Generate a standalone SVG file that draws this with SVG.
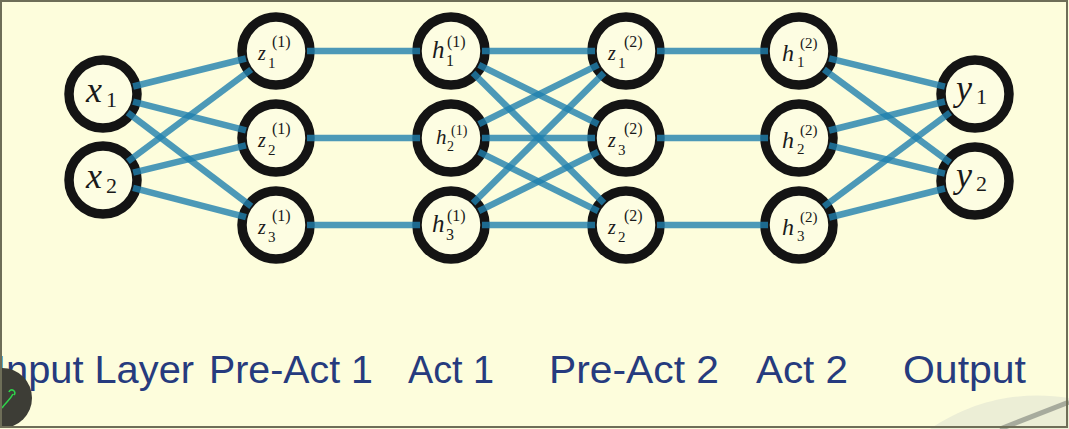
<svg xmlns="http://www.w3.org/2000/svg" width="1069" height="429" viewBox="0 0 1069 429">
<defs>
<style>
.bg{fill:#fdfddc}
.node circle{fill:#fdfde2;stroke:#141414;stroke-width:9.5}
.edges line{stroke:#1f7fae;stroke-opacity:0.8;stroke-width:6.5;stroke-linecap:butt}
.m{font-family:"Liberation Serif","DejaVu Serif",serif;font-style:italic;fill:#1a1a1a}
.s{font-family:"Liberation Serif","DejaVu Serif",serif;fill:#1a1a1a}
.cap{font-family:"Liberation Sans",Arial,sans-serif;font-size:38px;fill:#263b7e}
</style>
</defs>
<rect class="bg" x="0" y="0" width="1069" height="429"/>
<path d="M930,429 C980,395 1030,392 1069,398 L1069,429 Z" fill="#eceed6"/>
<path d="M1000,429 L1069,402" stroke="#8a8f84" stroke-width="5" fill="none" opacity="0.7"/>

<g id="node-x1" class="node"><circle cx="103" cy="94" r="34"/><text class="m" x="86" y="102" font-size="36">x</text><text class="s" x="106" y="107" font-size="22">1</text></g>
<g id="node-x2" class="node"><circle cx="103" cy="180" r="34"/><text class="m" x="86" y="188" font-size="36">x</text><text class="s" x="106" y="193" font-size="22">2</text></g>

<g id="node-z1-1" class="node"><circle cx="276" cy="51" r="34"/><text class="m" x="258" y="60" font-size="20">z</text><text class="s" x="268" y="68" font-size="15">1</text><text class="s" x="272" y="47" font-size="16">(1)</text></g>
<g id="node-z2-1" class="node"><circle cx="276" cy="138" r="34"/><text class="m" x="258" y="147" font-size="20">z</text><text class="s" x="268" y="155" font-size="15">2</text><text class="s" x="272" y="134" font-size="16">(1)</text></g>
<g id="node-z3-1" class="node"><circle cx="276" cy="225" r="34"/><text class="m" x="258" y="234" font-size="20">z</text><text class="s" x="268" y="242" font-size="15">3</text><text class="s" x="272" y="221" font-size="16">(1)</text></g>

<g id="node-h1-1" class="node"><circle cx="451" cy="51" r="34"/><text class="m" x="432" y="58" font-size="25">h</text><text class="s" x="446" y="66" font-size="16">1</text><text class="s" x="447" y="47" font-size="16">(1)</text></g>
<g id="node-h2-1" class="node"><circle cx="451" cy="138" r="34"/><text class="m" x="436" y="144" font-size="21">h</text><text class="s" x="447" y="151" font-size="14">2</text><text class="s" x="451" y="135" font-size="14">(1)</text></g>
<g id="node-h3-1" class="node"><circle cx="451" cy="225" r="34"/><text class="m" x="432" y="232" font-size="25">h</text><text class="s" x="446" y="240" font-size="16">3</text><text class="s" x="447" y="221" font-size="16">(1)</text></g>

<g id="node-z1-2" class="node"><circle cx="626" cy="51" r="34"/><text class="m" x="608" y="60" font-size="20">z</text><text class="s" x="618" y="68" font-size="15">1</text><text class="s" x="624" y="47" font-size="16">(2)</text></g>
<g id="node-z3-2" class="node"><circle cx="626" cy="138" r="34"/><text class="m" x="608" y="147" font-size="20">z</text><text class="s" x="618" y="155" font-size="15">3</text><text class="s" x="624" y="134" font-size="16">(2)</text></g>
<g id="node-z2-2" class="node"><circle cx="626" cy="225" r="34"/><text class="m" x="608" y="234" font-size="20">z</text><text class="s" x="618" y="242" font-size="15">2</text><text class="s" x="624" y="221" font-size="16">(2)</text></g>

<g id="node-h1-2" class="node"><circle cx="799" cy="51" r="34"/><text class="m" x="782" y="61" font-size="24">h</text><text class="s" x="797" y="67" font-size="15">1</text><text class="s" x="800" y="48" font-size="15">(2)</text></g>
<g id="node-h2-2" class="node"><circle cx="799" cy="138" r="34"/><text class="m" x="782" y="148" font-size="24">h</text><text class="s" x="797" y="154" font-size="15">2</text><text class="s" x="800" y="135" font-size="15">(2)</text></g>
<g id="node-h3-2" class="node"><circle cx="799" cy="225" r="34"/><text class="m" x="782" y="235" font-size="24">h</text><text class="s" x="797" y="241" font-size="15">3</text><text class="s" x="800" y="222" font-size="15">(2)</text></g>

<g id="node-y1" class="node"><circle cx="975" cy="94" r="34"/><text class="m" x="956" y="100" font-size="36">y</text><text class="s" x="976" y="104" font-size="22">1</text></g>
<g id="node-y2" class="node"><circle cx="975" cy="181" r="34"/><text class="m" x="956" y="187" font-size="36">y</text><text class="s" x="976" y="191" font-size="22">2</text></g>

<g id="connectors" class="edges">
<line x1="133.1" y1="86.5" x2="245.9" y2="58.5"/>
<line x1="133.0" y1="101.6" x2="246.0" y2="130.4"/>
<line x1="127.7" y1="112.7" x2="251.3" y2="206.3"/>
<line x1="127.9" y1="161.5" x2="251.2" y2="69.5"/>
<line x1="133.1" y1="172.7" x2="245.9" y2="145.3"/>
<line x1="133.0" y1="187.8" x2="246.0" y2="217.2"/>
<line x1="307" y1="51" x2="420" y2="51"/>
<line x1="307" y1="138" x2="420" y2="138"/>
<line x1="307" y1="225" x2="420" y2="225"/>
<line x1="482" y1="51" x2="595" y2="51"/>
<line x1="478.8" y1="64.8" x2="598.2" y2="124.2"/>
<line x1="473.0" y1="72.9" x2="604.0" y2="203.1"/>
<line x1="478.8" y1="124.2" x2="598.2" y2="64.8"/>
<line x1="482" y1="138" x2="595" y2="138"/>
<line x1="478.8" y1="151.8" x2="598.2" y2="211.2"/>
<line x1="473.0" y1="203.1" x2="604.0" y2="72.9"/>
<line x1="478.8" y1="211.2" x2="598.2" y2="151.8"/>
<line x1="482" y1="225" x2="595" y2="225"/>
<line x1="657" y1="51" x2="768" y2="51"/>
<line x1="657" y1="138" x2="768" y2="138"/>
<line x1="657" y1="225" x2="768" y2="225"/>
<line x1="829.1" y1="58.4" x2="944.9" y2="86.6"/>
<line x1="823.9" y1="69.4" x2="950.1" y2="162.6"/>
<line x1="829.1" y1="130.5" x2="944.9" y2="101.5"/>
<line x1="829.1" y1="145.4" x2="944.9" y2="173.6"/>
<line x1="823.9" y1="206.5" x2="950.1" y2="112.5"/>
<line x1="829.1" y1="217.5" x2="944.9" y2="188.5"/>
</g>

<g id="labels">
<text class="cap" x="-5" y="383" textLength="199" lengthAdjust="spacingAndGlyphs">Input Layer</text>
<text class="cap" x="209" y="383" textLength="164" lengthAdjust="spacingAndGlyphs">Pre-Act 1</text>
<text class="cap" x="408" y="383" textLength="86" lengthAdjust="spacingAndGlyphs">Act 1</text>
<text class="cap" x="549" y="383" textLength="170" lengthAdjust="spacingAndGlyphs">Pre-Act 2</text>
<text class="cap" x="756" y="383" textLength="92" lengthAdjust="spacingAndGlyphs">Act 2</text>
<text class="cap" x="903" y="383" textLength="123" lengthAdjust="spacingAndGlyphs">Output</text>
</g>

<circle cx="2" cy="398" r="30" fill="#3d3d36"/>
<path d="M2,408 C6,402 10,400 13,394 M9,392 a3,3 0 1 1 5,3" stroke="#2fd24a" stroke-width="1.6" fill="none"/>
<rect x="1" y="1" width="1066" height="426" fill="none" stroke="#6e6e58" stroke-width="2"/>
</svg>
